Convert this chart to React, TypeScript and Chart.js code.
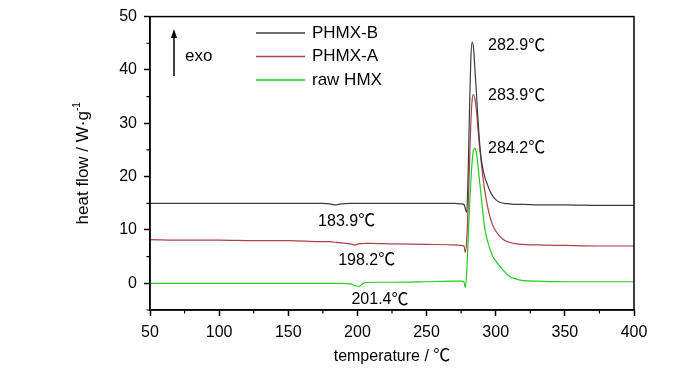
import React, { useEffect, useRef } from "react";
import { Chart, registerables } from "chart.js";

Chart.register(...registerables);

const temperatures = [50, 75, 100, 125, 150, 175, 180, 184, 188, 195, 198, 201, 205, 210, 225, 250, 270, 275, 277, 278, 279, 280, 281, 282, 283, 284, 285, 286, 287, 288, 289, 290, 292, 294, 296, 298, 300, 303, 306, 310, 315, 320, 330, 350, 375, 400];

const phmxB = [15.0, 15.0, 15.0, 15.0, 15.0, 15.0, 14.9, 14.7, 14.9, 15.0, 15.0, 15.0, 15.0, 15.0, 15.0, 15.0, 15.0, 14.9, 14.8, 14.0, 13.3, 20, 32, 42, 45.2, 44, 40, 36, 31.5, 27.5, 24.5, 22.5, 20, 18.5, 17.2, 16.3, 15.7, 15.2, 15.0, 14.9, 14.8, 14.8, 14.7, 14.7, 14.6, 14.6];

const phmxA = [8.2, 8.1, 8.1, 8.0, 8.0, 7.8, 7.8, 7.7, 7.6, 7.4, 7.2, 7.4, 7.5, 7.5, 7.4, 7.3, 7.2, 7.1, 7.0, 5.8, 8, 14, 22, 30, 34.5, 35.4, 34.5, 32.5, 29.5, 26.5, 24, 21.5, 17.5, 14.5, 12.3, 10.8, 9.8, 8.8, 8.1, 7.7, 7.4, 7.3, 7.2, 7.1, 7.0, 7.0];

const rawHMX = [0.0, 0.0, 0.0, 0.0, 0.0, 0.0, 0.0, 0.0, 0.0, -0.1, -0.4, -0.6, 0.1, 0.2, 0.2, 0.3, 0.4, 0.4, 0.3, -0.8, 2, 8, 14, 19, 23, 25, 25.3, 24.5, 22.5, 20, 17.5, 15, 10.5, 8.0, 6.3, 5.0, 4.2, 3.2, 2.3, 1.3, 0.8, 0.5, 0.4, 0.3, 0.3, 0.3];

const seriesNames = ["PHMX-B", "PHMX-A", "raw HMX"];
const seriesColors = ["#3c3c3c", "#a84444", "#22cc22"];

const xMajorTicks = [50, 100, 150, 200, 250, 300, 350, 400];
const xMinorTicks = [75, 125, 175, 225, 275, 325, 375];
const yMajorTicks = [0, 10, 20, 30, 40, 50];
const yMinorTicks = [-5, 5, 15, 25, 35, 45];

const xTitle = "temperature / ";
const yTitle = "heat flow / W·g";
const yTitleSup = "-1";
const degC = "℃";

// peak labels: [x, y, text]
const peakLabels: [number, number, string][] = [
  [294.5, 44.8, "282.9"],
  [294.5, 35.4, "283.9"],
  [294.5, 25.6, "284.2"],
];
const meltLabels: [number, number, string][] = [
  [192.2, 11.9, "183.9"],
  [206.7, 4.6, "198.2"],
  [216.3, -2.8, "201.4"],
];

const FONT = '"Liberation Sans", Arial, sans-serif';
const CJK = '"Noto Sans CJK SC", sans-serif';

function drawWithDeg(ctx: any, text: string, x: number, y: number, align: "left" | "center", size = 16) {
  const degSize = size + 1;
  ctx.font = `${size}px ${FONT}`;
  const w1 = ctx.measureText(text).width;
  ctx.font = `${degSize}px ${CJK}`;
  const w2 = ctx.measureText(degC).width;
  const start = align === "left" ? x : x - (w1 + w2) / 2;
  const base = y + size * 0.36;
  ctx.textAlign = "left";
  ctx.textBaseline = "alphabetic";
  ctx.font = `${size}px ${FONT}`;
  ctx.fillText(text, start, base);
  ctx.font = `${degSize}px ${CJK}`;
  ctx.fillText(degC, start + w1, base + 0.5);
}

export default function App() {
  const ref = useRef<HTMLCanvasElement>(null);

  useEffect(() => {
    const canvas = ref.current;
    if (!canvas) return;
    const all = [phmxB, phmxA, rawHMX];

    const decor = {
      id: "decor",
      afterDraw(chart: any) {
        const ctx = chart.ctx;
        const { left, right, top, bottom } = chart.chartArea;
        const xs = chart.scales.x;
        const ys = chart.scales.y;
        ctx.save();
        ctx.strokeStyle = "#000";
        ctx.lineWidth = 1.5;
        ctx.strokeRect(left, top, right - left, bottom - top);
        // minor ticks
        ctx.lineWidth = 1.2;
        ctx.beginPath();
        for (const v of xMinorTicks) {
          const px = xs.getPixelForValue(v);
          ctx.moveTo(px, bottom);
          ctx.lineTo(px, bottom + 3.5);
        }
        for (const v of yMinorTicks) {
          const py = ys.getPixelForValue(v);
          ctx.moveTo(left - 3.5, py);
          ctx.lineTo(left, py);
        }
        ctx.stroke();
        // labels
        ctx.fillStyle = "#000";
        for (const [x, y, t] of peakLabels) {
          drawWithDeg(ctx, t, xs.getPixelForValue(x), ys.getPixelForValue(y), "left");
        }
        for (const [x, y, t] of meltLabels) {
          drawWithDeg(ctx, t, xs.getPixelForValue(x), ys.getPixelForValue(y), "center");
        }
        // axis titles
        drawWithDeg(ctx, xTitle, (left + right) / 2, 355, "center");
        ctx.save();
        ctx.translate(83, (top + bottom) / 2);
        ctx.rotate(-Math.PI / 2);
        ctx.font = `17px ${FONT}`;
        const wMain = ctx.measureText(yTitle).width;
        ctx.font = `10px ${FONT}`;
        const wSup = ctx.measureText(yTitleSup).width;
        const sx = -(wMain + wSup) / 2;
        ctx.textAlign = "left";
        ctx.textBaseline = "middle";
        ctx.font = `17px ${FONT}`;
        ctx.fillText(yTitle, sx, 0);
        ctx.font = `10px ${FONT}`;
        ctx.fillText(yTitleSup, sx + wMain, -6);
        ctx.restore();
        // legend
        ctx.font = `17px ${FONT}`;
        ctx.textAlign = "left";
        ctx.textBaseline = "middle";
        for (let i = 0; i < seriesNames.length; i++) {
          const y = 33 + i * 23.5;
          ctx.strokeStyle = seriesColors[i];
          ctx.lineWidth = 1.5;
          ctx.beginPath();
          ctx.moveTo(256, y);
          ctx.lineTo(305, y);
          ctx.stroke();
          ctx.fillStyle = "#000";
          ctx.fillText(seriesNames[i], 312, y);
        }
        // exo arrow
        ctx.strokeStyle = "#000";
        ctx.fillStyle = "#000";
        ctx.lineWidth = 1.5;
        ctx.beginPath();
        ctx.moveTo(174, 76);
        ctx.lineTo(174, 36);
        ctx.stroke();
        ctx.beginPath();
        ctx.moveTo(174, 29);
        ctx.lineTo(171, 38);
        ctx.lineTo(177, 38);
        ctx.closePath();
        ctx.fill();
        ctx.font = `17px ${FONT}`;
        ctx.fillText("exo", 185, 56);
        ctx.restore();
      },
    };

    const chart = new Chart(canvas, {
      type: "line",
      data: {
        datasets: all.map((vals, i) => ({
          label: seriesNames[i],
          data: temperatures.map((t, j) => ({ x: t, y: vals[j] })),
          borderColor: seriesColors[i],
          borderWidth: 1.2,
          pointRadius: 0,
          cubicInterpolationMode: "monotone" as const,
          fill: false,
        })),
      },
      options: {
        animation: false,
        responsive: false,
        devicePixelRatio: 1,
        layout: { padding: { top: 15, right: 66, left: 0, bottom: 0 } },
        plugins: { legend: { display: false }, tooltip: { enabled: false } },
        scales: {
          x: {
            type: "linear",
            min: 50,
            max: 400,
            afterBuildTicks: (s: any) => {
              s.ticks = xMajorTicks.map((v) => ({ value: v }));
            },
            afterFit: (s: any) => {
              s.height = 63;
            },
            grid: { display: true, drawOnChartArea: false, drawTicks: true, tickLength: 6, tickColor: "#000", tickWidth: 1.5 },
            border: { display: true, color: "#000", width: 1.5 },
            ticks: { color: "#000", font: { family: FONT, size: 16 }, padding: 7, maxRotation: 0, autoSkip: false },
            title: { display: false },
          },
          y: {
            type: "linear",
            min: -5,
            max: 50,
            afterBuildTicks: (s: any) => {
              s.ticks = yMajorTicks.map((v) => ({ value: v }));
            },
            afterFit: (s: any) => {
              s.width = 150;
            },
            grid: { display: true, drawOnChartArea: false, drawTicks: true, tickLength: 6, tickColor: "#000", tickWidth: 1.5 },
            border: { display: true, color: "#000", width: 1.5 },
            ticks: { color: "#000", font: { family: FONT, size: 16 }, padding: 7, autoSkip: false },
            title: { display: false },
          },
        },
      },
      plugins: [decor],
    });
    return () => chart.destroy();
  }, []);

  return (
    <div style={{ position: "fixed", left: 0, top: 0, width: 700, height: 373, background: "#fff" }}>
      <canvas ref={ref} width={700} height={373} />
    </div>
  );
}
